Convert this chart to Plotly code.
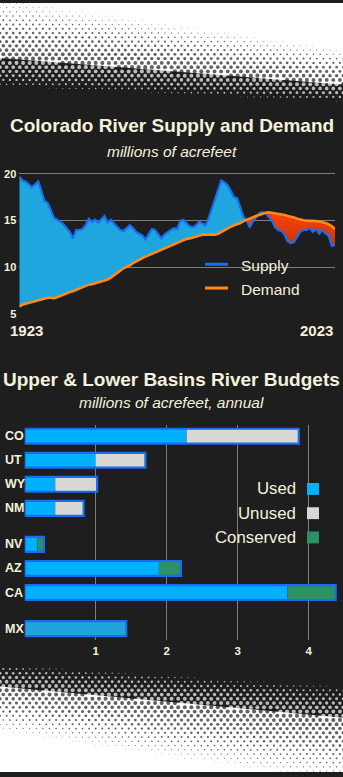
import numpy as np
import plotly.graph_objects as go

# ---------------------------------------------------------------- data
years = list(range(1923, 2024))

supply = [
    19.7, 19.3, 19.2, 18.9, 18.6, 18.9, 19.2, 18.2, 17.1, 16.9,   # 1923-1932
    16.1, 15.3, 15.1, 14.9, 14.6, 14.2, 13.8, 13.1, 14.0, 14.0,   # 1933-1942
    14.1, 14.5, 15.2, 14.9, 15.1, 14.8, 15.1, 15.5, 14.8, 15.1,   # 1943-1952
    14.7, 14.4, 14.0, 13.9, 14.2, 14.5, 14.2, 13.8, 13.6, 13.4,   # 1953-1962
    13.0, 13.6, 14.1, 14.0, 13.6, 13.1, 13.5, 13.8, 14.0, 14.2,   # 1963-1972
    14.1, 15.0, 15.1, 14.7, 14.4, 14.3, 14.5, 14.9, 14.7, 14.5,   # 1973-1982
    15.3, 16.3, 17.2, 18.3, 19.3, 19.1, 18.8, 18.2, 17.5, 17.4,   # 1983-1992
    16.5, 15.4, 15.0, 14.3, 14.9, 15.4, 15.8, 15.9, 15.8, 15.4,   # 1993-2002
    15.0, 14.3, 14.0, 13.9, 13.5, 12.8, 12.6, 12.7, 13.3, 13.8,   # 2003-2012
    14.0, 14.0, 14.2, 13.8, 14.1, 13.6, 14.0, 13.6, 13.4, 12.3,   # 2013-2022
    12.4,                                                         # 2023
]

demand = [
    5.8, 6.0, 6.1, 6.2, 6.3, 6.4, 6.5, 6.6, 6.7, 6.75,            # 1923-1932
    6.75, 6.7, 6.8, 6.95, 7.1, 7.2, 7.35, 7.45, 7.6, 7.7,         # 1933-1942
    7.85, 8.0, 8.15, 8.2, 8.3, 8.35, 8.45, 8.55, 8.7, 8.9,        # 1943-1952
    9.15, 9.4, 9.65, 9.9, 10.05, 10.2, 10.45, 10.65, 10.85, 11.0,  # 1953-1962
    11.15, 11.3, 11.45, 11.6, 11.75, 11.9, 12.0, 12.15, 12.3, 12.45,  # 1963-1972
    12.6, 12.8, 12.95, 13.05, 13.1, 13.2, 13.3, 13.4, 13.5, 13.5,  # 1973-1982
    13.5, 13.45, 13.5, 13.6, 13.8, 14.0, 14.2, 14.35, 14.5, 14.6,  # 1983-1992
    14.75, 14.95, 15.1, 15.2, 15.35, 15.5, 15.6, 15.75, 15.85, 15.9,  # 1993-2002
    15.85, 15.8, 15.7, 15.65, 15.6, 15.5, 15.45, 15.35, 15.2, 15.1,  # 2003-2012
    15.05, 15.0, 15.0, 14.95, 14.95, 14.9, 14.85, 14.75, 14.6, 14.4,  # 2013-2022
    14.1,                                                          # 2023
]

states = ["CO", "UT", "WY", "NM", "NV", "AZ", "CA", "MX"]
allocation = [3.86, 1.70, 1.02, 0.83, 0.27, 2.20, 4.38, 1.43]
used = [2.28, 1.00, 0.43, 0.43, 0.18, 1.89, 3.70, 1.43]
conserved = [0.0, 0.0, 0.0, 0.0, 0.09, 0.31, 0.68, 0.0]

supply_ticks = [5, 10, 15, 20]
budget_ticks = [1, 2, 3, 4]

# ---------------------------------------------------------------- style / layout
W, H = 343, 777
BG = "#1e1e1e"
CREAM = "#f4f1dc"
GRID = "#7e7e7e"
FONT = "Liberation Sans, Arial, sans-serif"

# row positions of the state bars (upper basin, lower basin, Mexico)
ROW_Y = [0, 1, 2, 3, 4.5, 5.5, 6.5, 8]


def px_x(p):
    return p / W


def px_y(p):
    return 1 - p / H


# ---------------------------------------------------------------- supply / demand areas
yr = np.array(years, float)
s = np.array(supply, float)
d = np.array(demand, float)

# add the points where supply crosses demand so the two fills meet cleanly
fx, fs, fd = [], [], []
for i in range(len(yr)):
    if i > 0:
        g0, g1 = s[i - 1] - d[i - 1], s[i] - d[i]
        if g0 * g1 < 0:
            f = g0 / (g0 - g1)
            fx.append(yr[i - 1] + f * (yr[i] - yr[i - 1]))
            v = d[i - 1] + f * (d[i] - d[i - 1])
            fs.append(v)
            fd.append(v)
    fx.append(yr[i])
    fs.append(s[i])
    fd.append(d[i])
fx, fs, fd = np.array(fx), np.array(fs), np.array(fd)
upper = np.maximum(fs, fd)
lower = np.minimum(fs, fd)

fig = go.Figure()

none = dict(width=0)
fig.add_trace(go.Scatter(x=fx, y=fd, mode="lines", line=none, hoverinfo="skip",
                         xaxis="x", yaxis="y"))
fig.add_trace(go.Scatter(x=fx, y=upper, mode="lines", line=none, fill="tonexty",
                         fillcolor="#1fa6de", hoverinfo="skip", xaxis="x", yaxis="y"))
fig.add_trace(go.Scatter(x=fx, y=lower, mode="lines", line=none, hoverinfo="skip",
                         xaxis="x", yaxis="y"))
fig.add_trace(go.Scatter(x=fx, y=fd, mode="lines", line=none, fill="tonexty",
                         fillgradient=dict(type="vertical",
                                           colorscale=[[0, "#c4360f"], [1, "#ff4100"]],
                                           start=12.4, stop=15.9),
                         hoverinfo="skip", xaxis="x", yaxis="y"))
fig.add_trace(go.Scatter(x=years, y=supply, mode="lines", name="Supply",
                         line=dict(color="#1a6cf2", width=2.2), xaxis="x", yaxis="y"))
fig.add_trace(go.Scatter(x=years, y=demand, mode="lines", name="Demand",
                         line=dict(color="#ff8a1c", width=2.6), xaxis="x", yaxis="y"))

# ---------------------------------------------------------------- state budgets
unused = [max(a - u - c, 0) for a, u, c in zip(allocation, used, conserved)]
used_colors = ["#00b1ff"] * (len(states) - 1) + ["#1fa4dc"]
BAR_W = 0.62

fig.add_trace(go.Bar(orientation="h", y=ROW_Y, x=used, base=0, width=BAR_W,
                     marker=dict(color=used_colors, line=dict(width=0)), name="Used",
                     xaxis="x2", yaxis="y2"))
fig.add_trace(go.Bar(orientation="h", y=ROW_Y, x=unused, base=used, width=BAR_W,
                     marker=dict(color="#d9d8d3", line=dict(width=0)), name="Unused",
                     xaxis="x2", yaxis="y2"))
fig.add_trace(go.Bar(orientation="h", y=ROW_Y, x=conserved, base=used, width=BAR_W,
                     marker=dict(color="#2d9163", line=dict(width=0)), name="Conserved",
                     xaxis="x2", yaxis="y2"))
fig.add_trace(go.Bar(orientation="h", y=ROW_Y, x=allocation, base=0, width=BAR_W,
                     marker=dict(color="rgba(0,0,0,0)", line=dict(color="#1a6cf0", width=2.2)),
                     hoverinfo="skip", xaxis="x2", yaxis="y2"))

# ---------------------------------------------------------------- halftone edges
PITCH_X, PITCH_Y = 6.6, 4.3
CELL = PITCH_X * PITCH_Y


def top_bounds(x):
    return -15 + 55 * x / W, 85 + 15 * x / W


def bottom_bounds(x):
    return 668 + 22 * x / W, 745 + 55 * x / W


def top_dark(x, y):
    a, b = top_bounds(x)
    t = np.clip((y - a) / (b - a), 0, 1)
    return t ** 2


def bottom_dark(x, y):
    a, b = bottom_bounds(x)
    t = np.clip((y - a) / (b - a), 0, 1)
    return (1 - t) ** 2


wx, wy, ws, kx, ky, ks = [], [], [], [], [], []


def dot_field(y0, y1, dark):
    for r, yy in enumerate(np.arange(y0, y1, PITCH_Y)):
        off = (r % 2) * PITCH_X / 2
        for xx in np.arange(-PITCH_X + off, W + PITCH_X, PITCH_X):
            dk = dark(xx, yy)
            cov = dk if dk <= 0.5 else 1 - dk
            size = np.sqrt(4 * cov * CELL / np.pi)
            if size < 0.7:
                continue
            if dk <= 0.5:
                kx.append(xx); ky.append(yy); ks.append(size)
            else:
                wx.append(xx); wy.append(yy); ws.append(size)


dot_field(-4, 112, top_dark)
dot_field(660, H + 6, bottom_dark)

fig.add_trace(go.Scatter(x=wx, y=wy, mode="markers", hoverinfo="skip",
                         marker=dict(color="#ffffff", size=ws, line=dict(width=0)),
                         xaxis="x3", yaxis="y3"))
fig.add_trace(go.Scatter(x=kx, y=ky, mode="markers", hoverinfo="skip",
                         marker=dict(color=BG, size=ks, line=dict(width=0)),
                         xaxis="x3", yaxis="y3"))

k = 1 - np.sqrt(0.5)


def top_mid(x):
    a, b = top_bounds(x)
    return a + (1 - k) * (b - a)


def bottom_mid(x):
    a, b = bottom_bounds(x)
    return a + k * (b - a)


shapes = [
    dict(type="path", xref="x3", yref="y3", layer="below", line=dict(width=0),
         fillcolor="#ffffff",
         path=f"M -10,-10 L {W+10},-10 L {W+10},{top_mid(W+10):.1f} L -10,{top_mid(-10):.1f} Z"),
    dict(type="path", xref="x3", yref="y3", layer="below", line=dict(width=0),
         fillcolor="#ffffff",
         path=f"M -10,{bottom_mid(-10):.1f} L {W+10},{bottom_mid(W+10):.1f} L {W+10},{H+10} L -10,{H+10} Z"),
]

# ---------------------------------------------------------------- legends
# supply / demand legend: background gap in the grid, line keys
shapes.append(dict(type="rect", xref="paper", yref="paper", layer="between",
                   x0=px_x(192), x1=px_x(304), y0=px_y(300), y1=px_y(252),
                   fillcolor=BG, line=dict(width=0)))
for yk, col in [(264, "#1a6cf2"), (288, "#ff8a1c")]:
    shapes.append(dict(type="line", xref="paper", yref="paper", layer="above",
                       x0=px_x(205), x1=px_x(228), y0=px_y(yk), y1=px_y(yk),
                       line=dict(color=col, width=3)))

# budget legend: background gap, square keys
shapes.append(dict(type="rect", xref="paper", yref="paper", layer="between",
                   x0=px_x(200), x1=px_x(338), y0=px_y(557), y1=px_y(477),
                   fillcolor=BG, line=dict(width=0)))
budget_keys = [("Used", "#00b1ff", 491), ("Unused", "#d9d8d3", 515.5), ("Conserved", "#2d9163", 540)]
for _, col, yk in budget_keys:
    shapes.append(dict(type="rect", xref="paper", yref="paper", layer="above",
                       x0=px_x(307), x1=px_x(319), y0=px_y(yk + 6), y1=px_y(yk - 6),
                       fillcolor=col, line=dict(width=0)))


def label(text, x, y, size, xanchor="center", weight="normal", style="normal",
          yref="paper"):
    return dict(text=text, x=px_x(x), y=(px_y(y) if yref == "paper" else y),
                xref="paper", yref=yref, xanchor=xanchor, yanchor="middle",
                showarrow=False,
                font=dict(family=FONT, size=size, color=CREAM, weight=weight, style=style))


annotations = [
    label("Colorado River Supply and Demand", W / 2, 124, 19, weight="bold"),
    label("millions of acrefeet", W / 2, 150, 15.5, style="italic"),
    label(str(years[0]), 8, 331, 15, xanchor="left", weight="bold"),
    label(str(years[-1]), 335, 331, 15, xanchor="right", weight="bold"),
    label("Supply", 239, 265, 15.5, xanchor="left"),
    label("Demand", 239, 289, 15.5, xanchor="left"),
    label("Upper & Lower Basins River Budgets", W / 2, 380, 19, weight="bold"),
    label("millions of acrefeet, annual", W / 2, 404, 15.5, style="italic"),
]
for name, _, yk in budget_keys:
    annotations.append(label(name, 298, yk, 16.8, xanchor="right"))
for st, ry in zip(states, ROW_Y):
    annotations.append(label(st, 3, ry, 12.5, xanchor="left", weight="bold", yref="y2"))

# ---------------------------------------------------------------- axes
top_y_lo, top_y_hi = 4.9, 20.3
px_per_unit = (314.3 - 172.7) / 15
top_dom = [px_y(314.3 + (5 - top_y_lo) * px_per_unit), px_y(172.7 - (top_y_hi - 20) * px_per_unit)]

bar_px_unit = 71.0
bar_x0 = 24.7
bar_slot = 24.3
bar_top, bar_bot = 426.7, 644.0
y2_lo = (bar_top - 437.7) / bar_slot
y2_hi = (bar_bot - 437.7) / bar_slot

tick_font = dict(family=FONT, size=11, color=CREAM, weight="bold")

fig.update_layout(
    width=W, height=H, autosize=False,
    margin=dict(l=0, r=0, t=0, b=0, pad=0),
    paper_bgcolor=BG, plot_bgcolor="rgba(0,0,0,0)",
    showlegend=False, barmode="overlay",
    shapes=shapes, annotations=annotations,
    xaxis=dict(domain=[px_x(19.3), px_x(335)], range=[years[0], years[-1]],
               showgrid=False, zeroline=False, showticklabels=False, fixedrange=True),
    yaxis=dict(domain=top_dom, range=[top_y_lo, top_y_hi], tickvals=supply_ticks,
               showgrid=True, gridcolor=GRID, gridwidth=1, zeroline=False,
               tickfont=tick_font, ticklabelstandoff=2, fixedrange=True),
    xaxis2=dict(domain=[px_x(bar_x0), 1], range=[0, (W - bar_x0) / bar_px_unit],
                tickvals=budget_ticks, showgrid=True, gridcolor=GRID, gridwidth=1,
                zeroline=False, anchor="y2", tickfont=dict(tick_font, size=11.5),
                ticklabelstandoff=2, fixedrange=True),
    yaxis2=dict(domain=[px_y(bar_bot), px_y(bar_top)], range=[y2_hi, y2_lo],
                showgrid=False, zeroline=False, showticklabels=False, anchor="x2",
                fixedrange=True),
    xaxis3=dict(domain=[0, 1], range=[0, W], visible=False, anchor="y3", fixedrange=True),
    yaxis3=dict(domain=[0, 1], range=[H, 0], visible=False, anchor="x3", fixedrange=True),
)

fig.write_html("out.html", config={"displayModeBar": False})
